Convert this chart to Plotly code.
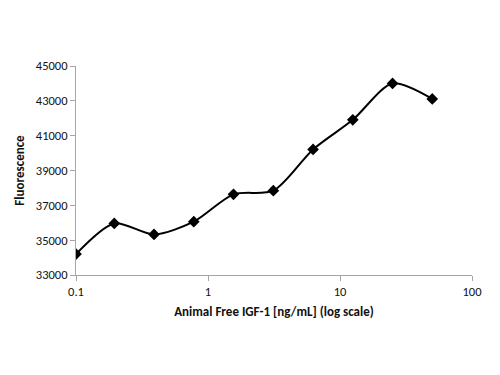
import plotly.graph_objects as go

conc = [0.1, 0.195, 0.39, 0.78, 1.56, 3.125, 6.25, 12.5, 25, 50]
fluor = [34200, 35960, 35330, 36060, 37630, 37840, 40210, 41910, 44000, 43110]
x_ticks = [0.1, 1, 10, 100]
x_tick_labels = ["0.1", "1", "10", "100"]
y_ticks = [33000, 35000, 37000, 39000, 41000, 43000, 45000]
y_tick_labels = [str(v) for v in y_ticks]

fig = go.Figure()
fig.add_trace(go.Scatter(
    x=conc, y=fluor, mode="lines+markers",
    line=dict(color="black", width=2, shape="spline", smoothing=0.8),
    marker=dict(symbol="diamond", size=9, color="black"),
    showlegend=False,
))

font = "Carlito, Liberation Sans, Arial"
axis_common = dict(
    showgrid=False, showline=True, linecolor="#a6a6a6", linewidth=1,
    ticks="outside", tickcolor="#a6a6a6", ticklen=5,
    tickfont=dict(family=font, size=12.5, color="#111"),
    zeroline=False, automargin=False,
)

fig.update_layout(
    width=500, height=375,
    paper_bgcolor="white", plot_bgcolor="white",
    margin=dict(l=68, r=36, t=58, b=108),
    xaxis=dict(type="log", range=[-1, 2], tickvals=x_ticks, ticktext=x_tick_labels,
               title=dict(text="<b>Animal Free IGF-1 [ng/mL] (log scale)</b>",
                          font=dict(family=font, size=13, color="#111"),
                          standoff=8),
               **axis_common),
    yaxis=dict(range=[33000, 45000], tickvals=y_ticks, ticktext=y_tick_labels,
               title=dict(text="<b>Fluorescence</b>",
                          font=dict(family=font, size=13, color="#111"),
                          standoff=8),
               **axis_common),
)

fig.write_html("out.html")
